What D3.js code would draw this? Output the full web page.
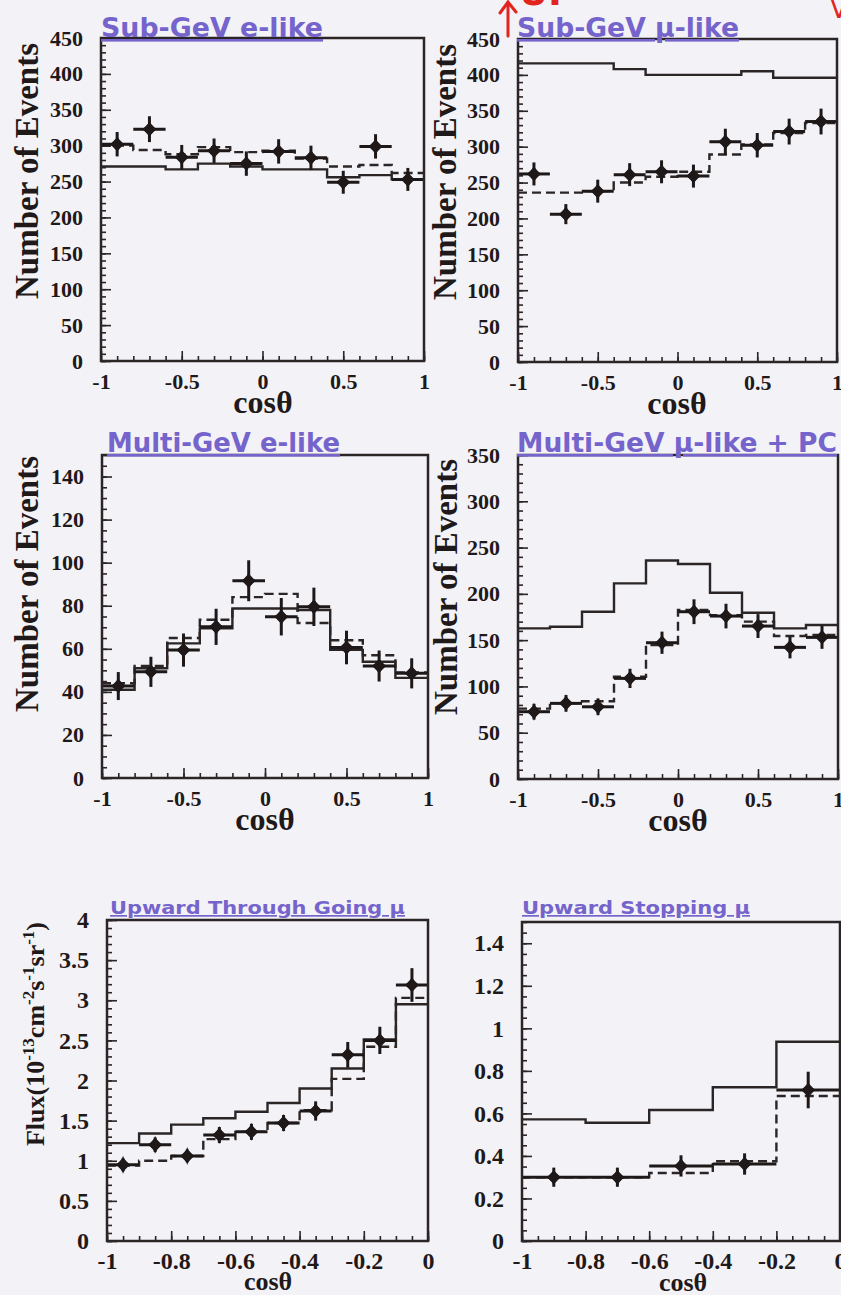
<!DOCTYPE html>
<html><head><meta charset="utf-8">
<script src="https://cdn.jsdelivr.net/npm/d3@7"></script>
<style>
html,body{margin:0;padding:0;background:#f3f2f7;}
svg{display:block;}
</style></head><body>
<svg id="c" width="841" height="1295"></svg>
<script>
// ---------------- data ----------------
const edgesFull = [-1,-0.8,-0.6,-0.4,-0.2,0,0.2,0.4,0.6,0.8,1];
const edgesUpThru = [-1,-0.9,-0.8,-0.7,-0.6,-0.5,-0.4,-0.3,-0.2,-0.1,0];
const edgesUpStop = [-1,-0.8,-0.6,-0.4,-0.2,0];

const subGeVe_data  = [302,323,284,293,275,292,283,249,299,253];
const subGeVe_err   = [17,18,17,17,17,17,17,16,17,16];
const subGeVe_noOsc = [271,271,267,275,271,267,267,256,259,253];
const subGeVe_fit   = [300,294,288,298,291,293,282,271,273,262];

const subGeVmu_data  = [262,206,238,261,265,259,307,302,321,335];
const subGeVmu_err   = [16,14,16,16,16,16,18,17,18,18];
const subGeVmu_noOsc = [416,416,416,408,400,400,400,405,396,396];
const subGeVmu_fit   = [236,236,238,250,258,265,289,303,319,333];

const multiGeVe_data  = [42.7,49.3,59.4,70.2,91.6,74.9,79.5,60.6,52,48.6];
const multiGeVe_err   = [6.5,7,7.7,8.4,9.5,8.7,8.9,7.8,7.2,7.0];
const multiGeVe_noOsc = [41,51,62.5,69.5,78.7,78.7,78,59.5,54,46.5];
const multiGeVe_fit   = [44,52,65,73.5,84,85.5,72,64,57,49];

const multiGeVmu_data  = [72.7,81.7,78,108.7,147.2,180.7,176,165.2,142.2,153];
const multiGeVmu_err   = [8.5,9,9,10.4,12,13.4,13.3,12.9,11.9,12.4];
const multiGeVmu_noOsc = [162.7,164.5,180.7,211.3,236,232.2,201.2,179.6,162.7,166.3];
const multiGeVmu_fit   = [76,82,84,110.5,144.7,182.5,177,170,154.4,155.5];

const upThru_data  = [0.95,1.2,1.06,1.32,1.36,1.47,1.62,2.32,2.5,3.19];
const upThru_err   = [0.08,0.09,0.08,0.1,0.1,0.1,0.12,0.16,0.17,0.21];
const upThru_noOsc = [1.22,1.34,1.45,1.53,1.61,1.72,1.9,2.15,2.51,2.95];
const upThru_fit   = [0.94,1.0,1.06,1.27,1.36,1.47,1.63,2.02,2.42,3.03];

const upStop_data  = [0.30,0.30,0.353,0.362,0.71];
const upStop_err   = [0.045,0.045,0.05,0.05,0.086];
const upStop_noOsc = [0.572,0.556,0.616,0.723,0.937];
const upStop_fit   = [0.30,0.30,0.32,0.375,0.682];

// tick values / labels
const cosTicksFull = [-1,-0.5,0,0.5,1];
const cosLabelsFull = ["-1","-0.5","0","0.5","1"];
const cosTicksUp = [-1,-0.8,-0.6,-0.4,-0.2,0];
const cosLabelsUp = ["-1","-0.8","-0.6","-0.4","-0.2","0"];
const yTicksSubGeV = [0,50,100,150,200,250,300,350,400,450];
const yTicksMultiE = [0,20,40,60,80,100,120,140];
const yTicksMultiMu = [0,50,100,150,200,250,300,350];
const yTicksUpThru = [0,0.5,1,1.5,2,2.5,3,3.5,4];
const yLabelsUpThru = ["0","0.5","1","1.5","2","2.5","3","3.5","4"];
const yTicksUpStop = [0,0.2,0.4,0.6,0.8,1,1.2,1.4];
const yLabelsUpStop = ["0","0.2","0.4","0.6","0.8","1","1.2","1.4"];

const titles = ["Sub-GeV e-like","Sub-GeV \u03bc-like","Multi-GeV e-like","Multi-GeV \u03bc-like + PC","Upward Through Going \u03bc","Upward Stopping \u03bc"];

// ---------------- layout ----------------
const INK = "#2b2525";
const TITLE = "#7464cc";
const SERIF = "'Liberation Serif','Times New Roman',serif";
const SANS = "'DejaVu Sans',sans-serif";

const panels = [
 {title:titles[0], x0:101,x1:424,y0:38,y1:361, ymax:450, edges:edgesFull, data:subGeVe_data, err:subGeVe_err, noOsc:subGeVe_noOsc, fit:subGeVe_fit,
  yT:yTicksSubGeV, yL:yTicksSubGeV.map(String), yMinor:10, xT:cosTicksFull, xL:cosLabelsFull, xMinor:0.1,
  tx:101, ty:37, tlen:222, tsize:26, fs:22, ylab:"events", ylx:38, yly:171, cosx:263, cosy:413, cossize:32},
 {title:titles[1], x0:518,x1:837,y0:39,y1:362, ymax:450, edges:edgesFull, data:subGeVmu_data, err:subGeVmu_err, noOsc:subGeVmu_noOsc, fit:subGeVmu_fit,
  yT:yTicksSubGeV, yL:yTicksSubGeV.map(String), yMinor:10, xT:cosTicksFull, xL:cosLabelsFull, xMinor:0.1,
  tx:517, ty:37, tlen:222, tsize:26, fs:22, ylab:"events", ylx:456, yly:172, cosx:677, cosy:414, cossize:32},
 {title:titles[2], x0:102,x1:428,y0:455,y1:778, ymax:150, edges:edgesFull, data:multiGeVe_data, err:multiGeVe_err, noOsc:multiGeVe_noOsc, fit:multiGeVe_fit,
  yT:yTicksMultiE, yL:yTicksMultiE.map(String), yMinor:5, xT:cosTicksFull, xL:cosLabelsFull, xMinor:0.1,
  tx:107, ty:452, tlen:233, tsize:26, fs:22, ylab:"events", ylx:38, yly:584, cosx:265, cosy:830, cossize:32},
 {title:titles[3], x0:518,x1:838,y0:455,y1:779, ymax:350, edges:edgesFull, data:multiGeVmu_data, err:multiGeVmu_err, noOsc:multiGeVmu_noOsc, fit:multiGeVmu_fit,
  yT:yTicksMultiMu, yL:yTicksMultiMu.map(String), yMinor:10, xT:cosTicksFull, xL:cosLabelsFull, xMinor:0.1,
  tx:517, ty:452, tlen:320, tsize:26, fs:22, ylab:"events", ylx:457, yly:587, cosx:678, cosy:831, cossize:32},
 {title:titles[4], x0:107,x1:428,y0:920,y1:1241, ymax:4, edges:edgesUpThru, data:upThru_data, err:upThru_err, noOsc:upThru_noOsc, fit:upThru_fit,
  yT:yTicksUpThru, yL:yLabelsUpThru, yMinor:0.1, xT:cosTicksUp, xL:cosLabelsUp, xMinor:0.05,
  tx:110, ty:914, tlen:295, tsize:17, fs:24, ylab:"flux", ylx:44, yly:1034, cosx:268, cosy:1290, cossize:26},
 {title:titles[5], x0:522,x1:840,y0:922,y1:1241, ymax:1.5, edges:edgesUpStop, data:upStop_data, err:upStop_err, noOsc:upStop_noOsc, fit:upStop_fit,
  yT:yTicksUpStop, yL:yLabelsUpStop, yMinor:0.05, xT:cosTicksUp, xL:cosLabelsUp, xMinor:0.05,
  tx:522, ty:914, tlen:228, tsize:17, fs:24, ylab:null, cosx:683, cosy:1291, cossize:26}
];

const svg = d3.select("#c");
svg.append("rect").attr("width",841).attr("height",1295).attr("fill","#f3f2f7");

function styleAxis(s, fs){
  s.select(".domain").remove();
  s.selectAll(".tick line").attr("stroke",INK).attr("stroke-width",1.6);
  s.selectAll(".tick text").attr("fill","#1f1919").attr("font-family",SERIF)
    .attr("font-weight","bold").attr("font-size",fs);
}

panels.forEach(p => {
  const g = svg.append("g");
  const xd = [p.edges[0], p.edges[p.edges.length-1]];
  const x = d3.scaleLinear().domain(xd).range([p.x0,p.x1]);
  const y = d3.scaleLinear().domain([0,p.ymax]).range([p.y1,p.y0]);

  // minor ticks
  const yMinorVals = d3.range(0, Math.round(p.ymax/p.yMinor)+1).map(i=>i*p.yMinor);
  const xMinorVals = d3.range(0, Math.round((xd[1]-xd[0])/p.xMinor)+1).map(i=>xd[0]+i*p.xMinor);
  g.append("g").attr("transform",`translate(${p.x0},0)`)
    .call(d3.axisLeft(y).tickValues(yMinorVals).tickSizeInner(-5).tickSizeOuter(0).tickFormat(""))
    .call(s=>styleAxis(s,p.fs));
  g.append("g").attr("transform",`translate(0,${p.y1})`)
    .call(d3.axisBottom(x).tickValues(xMinorVals).tickSizeInner(-5).tickSizeOuter(0).tickFormat(""))
    .call(s=>styleAxis(s,p.fs));
  // major ticks + labels
  g.append("g").attr("transform",`translate(${p.x0},0)`)
    .call(d3.axisLeft(y).tickValues(p.yT).tickSizeInner(-10).tickSizeOuter(0).tickPadding(18)
      .tickFormat((d,i)=>p.yL[i]))
    .call(s=>styleAxis(s,p.fs));
  g.append("g").attr("transform",`translate(0,${p.y1})`)
    .call(d3.axisBottom(x).tickValues(p.xT).tickSizeInner(-10).tickSizeOuter(0).tickPadding(p.fs===22?12:11)
      .tickFormat((d,i)=>p.xL[i]))
    .call(s=>styleAxis(s,p.fs));

  // histograms
  const n = p.data.length;
  const step = d3.line().x(d=>x(d[0])).y(d=>y(d[1])).curve(d3.curveStepAfter);
  const pts = vals => p.edges.map((e,i)=>[e, vals[Math.min(i,n-1)]]);
  g.append("path").attr("d",step(pts(p.noOsc))).attr("fill","none")
    .attr("stroke",INK).attr("stroke-width",2.4);
  g.append("path").attr("d",step(pts(p.fit))).attr("fill","none")
    .attr("stroke",INK).attr("stroke-width",2.4).attr("stroke-dasharray","9,5");

  // data points with error bars
  const pg = g.append("g");
  p.data.forEach((v,i)=>{
    const lo = p.edges[i], hi = p.edges[i+1], c = (lo+hi)/2;
    pg.append("line").attr("x1",x(lo)).attr("x2",x(hi)).attr("y1",y(v)).attr("y2",y(v))
      .attr("stroke","#1e1818").attr("stroke-width",3);
    pg.append("line").attr("x1",x(c)).attr("x2",x(c)).attr("y1",y(v-p.err[i])).attr("y2",y(v+p.err[i]))
      .attr("stroke","#1e1818").attr("stroke-width",3);
    pg.append("path").attr("transform",`translate(${x(c)},${y(v)})`)
      .attr("d","M0,-9 Q1.8,-1.8 8.5,0 Q1.8,1.8 0,9 Q-1.8,1.8 -8.5,0 Q-1.8,-1.8 0,-9Z")
      .attr("fill","#1e1818");
    pg.append("path").attr("transform",`translate(${x(c)},${y(v)})`)
      .attr("d","M0,-7 L6.8,0 L0,7 L-6.8,0Z").attr("fill","#1e1818");
  });

  // frame
  g.append("rect").attr("x",p.x0).attr("y",p.y0).attr("width",p.x1-p.x0).attr("height",p.y1-p.y0)
    .attr("fill","none").attr("stroke",INK).attr("stroke-width",2.5);

  // title
  g.append("text").attr("x",p.tx).attr("y",p.ty).text(p.title)
    .attr("font-family",SANS).attr("font-weight","bold").attr("font-size",p.tsize)
    .attr("fill",TITLE).attr("text-decoration","underline")
    .attr("textLength",p.tlen).attr("lengthAdjust","spacingAndGlyphs");

  // axis titles
  g.append("text").attr("x",p.cosx).attr("y",p.cosy).attr("text-anchor","middle")
    .attr("font-family",SERIF).attr("font-weight","bold").attr("font-size",p.cossize)
    .attr("fill","#1f1919").text("cos\u03b8");
  if (p.ylab === "events") {
    g.append("text").attr("transform",`translate(${p.ylx},${p.yly}) rotate(-90)`)
      .attr("text-anchor","middle").attr("font-family",SERIF).attr("font-weight","bold")
      .attr("font-size",33).attr("fill","#1f1919").text("Number of Events");
  } else if (p.ylab === "flux") {
    const t = g.append("text").attr("transform",`translate(${p.ylx},${p.yly}) rotate(-90)`)
      .attr("text-anchor","middle").attr("font-family",SERIF).attr("font-weight","bold")
      .attr("font-size",26).attr("fill","#1f1919");
    const parts = [["Flux(10",0],["-13",1],["cm",0],["-2",1],["s",0],["-1",1],["sr",0],["-1",1],[")",0]];
    let prevSup = 0;
    parts.forEach(([s,sup])=>{
      const ts = t.append("tspan").text(s);
      if (sup) ts.attr("font-size",17);
      const dy = sup ? (prevSup ? 0 : -10) : (prevSup ? 10 : 0);
      if (dy) ts.attr("dy",dy);
      prevSup = sup;
    });
  }
});

// handwritten red annotations at the top edge
const red = "#e2241f";
svg.append("path").attr("d","M508,36 L508,3 M500,13 L508,2 L516,12")
  .attr("fill","none").attr("stroke",red).attr("stroke-width",3).attr("stroke-linecap","round");
svg.append("text").attr("x",519).attr("y",5).attr("fill",red)
  .attr("font-family",SANS).attr("font-weight","bold").attr("font-size",36).text("UP");
svg.append("text").attr("x",830).attr("y",18).attr("fill",red)
  .attr("font-family",SANS).attr("font-size",26).text("V");
</script>
</body></html>
